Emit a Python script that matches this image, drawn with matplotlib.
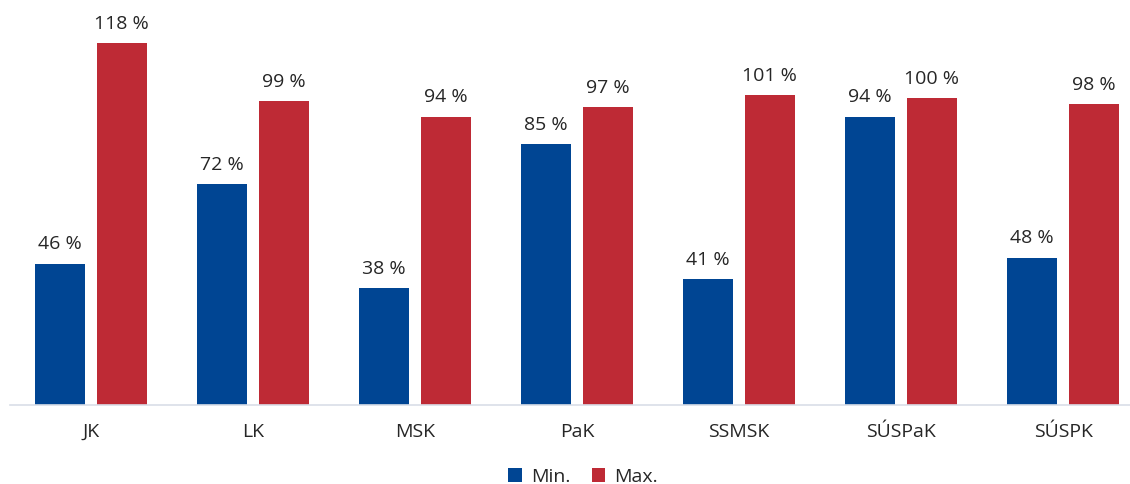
import matplotlib
matplotlib.use("Agg")
import matplotlib.pyplot as plt
import numpy as np

categories = ["JK", "LK", "MSK", "PaK", "SSMSK", "SÚSPaK", "SÚSPK"]
min_values = [46, 72, 38, 85, 41, 94, 48]
max_values = [118, 99, 94, 97, 101, 100, 98]

BLUE = "#004593"
RED = "#BE2A35"
TEXT = "#262626"

plt.rcParams["font.family"] = ["Open Sans", "DejaVu Sans"]

W, H = 1130, 484
fig = plt.figure(figsize=(W / 100, H / 100), dpi=100)
# axes spans from the left edge of the baseline to the right image edge
left_px, right_px, base_px = 10, 1130, 405
ax = fig.add_axes([left_px / W, 1 - base_px / H, (right_px - left_px) / W, base_px / H])

spacing_px = 162.0
x = np.arange(len(categories))
ax.set_xlim(-0.5, -0.5 + (right_px - left_px) / spacing_px)
ax.set_ylim(0, 132)

bar_w = 50 / spacing_px
offset = 30.75 / spacing_px
b1 = ax.bar(x - offset, min_values, bar_w, color=BLUE, label="Min.")
b2 = ax.bar(x + offset, max_values, bar_w, color=RED, label="Max.")

for bars, vals in ((b1, min_values), (b2, max_values)):
    for rect, v in zip(bars, vals):
        ax.annotate(f"{v} %", (rect.get_x() + rect.get_width() / 2, v),
                    xytext=(0, 7.5), textcoords="offset points",
                    ha="center", va="bottom", fontsize=14, color=TEXT)

for s in ("top", "right", "left"):
    ax.spines[s].set_visible(False)
ax.spines["bottom"].set_color("#D9DEE7")
ax.spines["bottom"].set_linewidth(1.2)
ax.set_yticks([])
ax.set_xticks(x)
ax.set_xticklabels(categories, fontsize=14, color=TEXT)
ax.tick_params(axis="x", length=0, pad=13)

fig.legend(handles=[b1, b2], loc="center", bbox_to_anchor=(583 / W, 1 - 477 / H),
           ncol=2, frameon=False, fontsize=14, handlelength=0.7, handleheight=0.7,
           handletextpad=0.45, columnspacing=1.1, labelcolor=TEXT)

fig.savefig("out.png", dpi=100)
